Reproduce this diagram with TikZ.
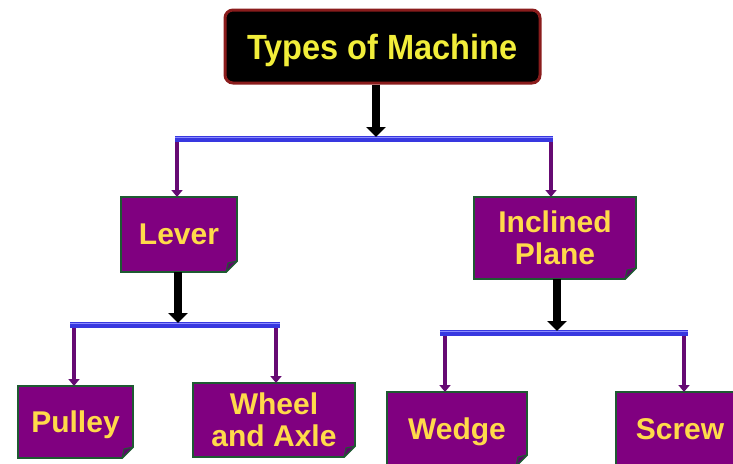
\documentclass[tikz,border=0pt]{standalone}
\usepackage{fontspec}
\setmainfont{Liberation Sans}
\newfontfamily\topfont[FakeStretch=0.93]{Liberation Sans}
\usetikzlibrary{arrows.meta,backgrounds}
\definecolor{boxpurple}{HTML}{800080}
\definecolor{foldpurple}{HTML}{5A0A66}
\definecolor{boxgreen}{HTML}{1E5A32}
\definecolor{barblue}{HTML}{3838E0}
\definecolor{barlight}{HTML}{8C8CFF}
\definecolor{droppurple}{HTML}{660A73}
\definecolor{topred}{HTML}{8A1C1C}
\definecolor{topyellow}{HTML}{F2EE3A}
\definecolor{txtyellow}{HTML}{FFDA4A}
\tikzset{
  topbox/.style={rectangle, rounded corners=8pt, fill=black, draw=topred, line width=3pt,
    minimum width=315pt, minimum height=73pt, inner sep=0pt,
    font=\topfont\bfseries\fontsize{35}{38}\selectfont, text=topyellow, text depth=0pt},
  mbox/.style={rectangle, inner sep=0pt, outer sep=0pt, align=center,
    font=\bfseries\fontsize{30}{32}\selectfont, text=txtyellow},
  boxfill/.style={fill=boxpurple, draw=boxgreen, line width=1.8pt, line join=miter},
  foldfill/.style={fill=foldpurple, draw=boxgreen, line width=1pt, line join=round},
  bigarrow/.style={line width=8pt, black, -{Triangle[width=19pt,length=10pt]}},
  droparrow/.style={line width=4.5pt, droppurple, -{Triangle[width=11pt,length=7pt]}},
  bar/.style={line width=6pt, barblue, line cap=butt},
  barhi/.style={line width=1.4pt, barlight},
}
\newcommand\purplebox[1]{%
  \begin{scope}[on background layer]
  \path[boxfill] (#1.north west) -- (#1.north east) -- ([yshift=11pt]#1.south east)
    -- ([xshift=-11pt]#1.south east) -- (#1.south west) -- cycle;
  \path[foldfill] ([xshift=-11pt]#1.south east) -- ([xshift=-9pt,yshift=9pt]#1.south east)
    -- ([yshift=11pt]#1.south east) -- cycle;
  \end{scope}}
\begin{document}
\begin{tikzpicture}[x=1pt,y=-1pt]
\useasboundingbox (0,0) rectangle (733,463);
\clip (0,0) rectangle (733,463);

% nodes
\node[topbox] (top) at (382.5,46.5) {Types of Machine};
\node[mbox, minimum width=116pt, minimum height=75pt, text depth=0pt] (lever) at (179,234.5) {Lever};
\node[mbox, minimum width=162pt, minimum height=82pt] (incl) at (555,238) {Inclined\\Plane};
\node[mbox, minimum width=115pt, minimum height=72pt, text depth=0pt] (pulley) at (75.5,422) {Pulley};
\node[mbox, minimum width=162pt, minimum height=74pt] (wheel) at (274,420) {Wheel\\and Axle};
\node[mbox, minimum width=140pt, minimum height=74pt, text depth=0pt] (wedge) at (457,429) {Wedge};
\node[mbox, minimum width=128pt, minimum height=74pt, text depth=0pt] (screw) at (680,429) {Screw};
\foreach \n in {lever,incl,pulley,wheel,wedge,screw} {\purplebox{\n}}

% bar coordinates
\coordinate (b1l) at (175,139);  \coordinate (b1r) at (553,139);
\coordinate (b1a) at (376,139);  \coordinate (b1d1) at (177,139); \coordinate (b1d2) at (551,139);
\coordinate (b2l) at (70,325);   \coordinate (b2r) at (280,325);
\coordinate (b2a) at (178,325);  \coordinate (b2d1) at (74,325);  \coordinate (b2d2) at (276,325);
\coordinate (b3l) at (440,333);  \coordinate (b3r) at (688,333);
\coordinate (b3a) at (557,333);  \coordinate (b3d1) at (445,333); \coordinate (b3d2) at (684,333);

% purple drops
\draw[droparrow] (b1d1) -- (b1d1 |- lever.north);
\draw[droparrow] (b1d2) -- (b1d2 |- incl.north);
\draw[droparrow] (b2d1) -- (b2d1 |- pulley.north);
\draw[droparrow] (b2d2) -- (b2d2 |- wheel.north);
\draw[droparrow] (b3d1) -- (b3d1 |- wedge.north);
\draw[droparrow] (b3d2) -- (b3d2 |- screw.north);

% bars
\foreach \a/\b in {b1l/b1r,b2l/b2r,b3l/b3r} {
  \draw[bar] (\a) -- (\b);
  \draw[barhi] ([yshift=1.8pt]\a) -- ([yshift=1.8pt]\b);
}

% black arrows
\draw[bigarrow] (b1a |- top.south) -- ([yshift=2pt]b1a);
\draw[bigarrow] (b2a |- lever.south) -- ([yshift=2pt]b2a);
\draw[bigarrow] (b3a |- incl.south) -- ([yshift=2pt]b3a);
\end{tikzpicture}
\end{document}
